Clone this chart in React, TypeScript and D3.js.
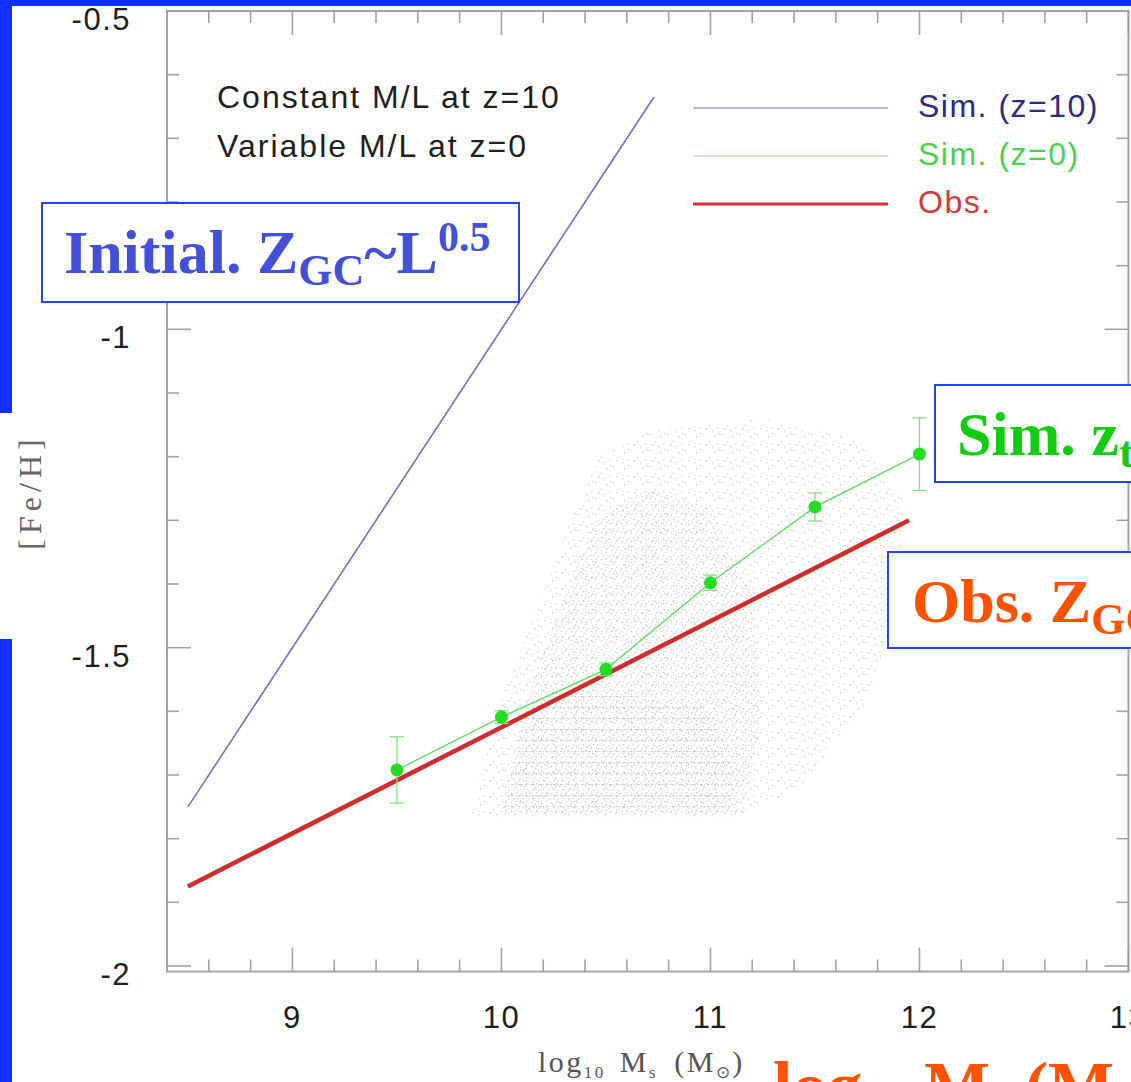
import React from "react";
import * as d3 from "d3";

// ---- data ----
const xMajorTicks = [9, 10, 11, 12, 13];
const yMajorTicks = [-2, -1.5, -1, -0.5];
const xTickLabels = ["9", "10", "11", "12", "13"];
const yTickLabels = ["-2", "-1.5", "-1", "-0.5"];

// simulated relation at z=10 (constant M/L)
const simZ10X = [8.5, 10.73];
const simZ10Y = [-1.75, -0.635];

// observed relation
const obsX = [8.5, 11.95];
const obsY = [-1.875, -1.3];

// simulated relation at z=0 (binned means with dispersion)
const simZ0X = [9.5, 10, 10.5, 11, 11.5, 12];
const simZ0Y = [-1.692, -1.609, -1.534, -1.398, -1.279, -1.196];
const simZ0Err = [0.052, 0.01, 0.01, 0.012, 0.022, 0.057];

// outlines of the simulated GC cloud (log M, [Fe/H])
const cloudOuter: [number, number][] = [
  [9.85, -1.765], [10.0, -1.58], [10.18, -1.43], [10.33, -1.3], [10.47, -1.2],
  [10.7, -1.16], [11.23, -1.14], [11.7, -1.17], [11.93, -1.27], [11.9, -1.42],
  [11.76, -1.58], [11.43, -1.72], [11.14, -1.765],
];
const cloudCore: [number, number][] = [
  [10.0, -1.765], [10.1, -1.6], [10.3, -1.42], [10.45, -1.3], [10.7, -1.25],
  [11.0, -1.28], [11.2, -1.42], [11.25, -1.6], [11.15, -1.765],
];
const cloudRows: [number, number][] = [
  [10.0, -1.765], [10.12, -1.59], [10.4, -1.57], [10.95, -1.585], [11.12, -1.68], [11.1, -1.765],
];

const legendItems = [
  { label: "Sim. (z=10)", line: "#9c9cd4", text: "#2b2b86", width: 1.6 },
  { label: "Sim. (z=0)", line: "#b4e6b4", text: "#4fcf4f", width: 1.6 },
  { label: "Obs.", line: "#d03030", text: "#d03a3a", width: 3.2 },
];

// ---- layout ----
const W = 1131;
const H = 1082;
const x = d3.scaleLinear().domain([8.4, 13]).range([167, 1128.5]);
const y = d3.scaleLinear().domain([-2, -0.5]).range([966, 11]);
const frameBottom = y(-2.0087);

const AXIS = "#a2a2a2";
const SANS = "'Liberation Sans', Arial, Helvetica, sans-serif";
const SERIF = "'Liberation Serif', 'Times New Roman', Times, serif";
const SLIDE_BLUE = "#1030ff";
const BOX_BLUE = "#2246ff";

// dot layouts for the cloud textures (positions inside one tile)
const sparseDots = [[1, 2], [7, 9], [12, 4], [15, 11], [4, 12], [10, 14], [16, 1]];
const coreDots = [[1, 1], [5, 3], [3, 6], [8, 7], [6, 0]];

export default function App() {
  const xMinor = d3.range(8.4, 13.0001, 0.2);
  const yMinor = d3.range(-2, -0.4999, 0.1);
  const isMajorX = (v: number) => Math.abs(v - Math.round(v)) < 1e-6;
  const isMajorY = (v: number) => Math.abs(v * 2 - Math.round(v * 2)) < 1e-6;

  const pathFrom = (xs: number[], ys: number[]) =>
    d3.line<number>().x((v) => x(v)).y((_, i) => y(ys[i]))(xs) || "";

  const poly = (pts: [number, number][]) =>
    d3.line<[number, number]>().x((p) => x(p[0])).y((p) => y(p[1])).curve(d3.curveLinearClosed)(pts) || "";

  const x0 = x.range()[0];
  const x1 = x.range()[1];
  const yTop = y(-0.5);

  return (
    <svg
      width={W}
      height={H}
      viewBox={`0 0 ${W} ${H}`}
      style={{ position: "absolute", left: 0, top: 0, background: "#fff" }}
    >
      <defs>
        <pattern id="dotsSparse" width={18} height={16} patternUnits="userSpaceOnUse">
          {sparseDots.map((p, i) => (
            <rect key={i} x={p[0]} y={p[1]} width={1.3} height={1.3} fill={i % 2 ? "#a0a0a0" : "#8c8c8c"} />
          ))}
        </pattern>
        <pattern id="dotsCore" width={10} height={9} patternUnits="userSpaceOnUse">
          {coreDots.map((p, i) => (
            <rect key={i} x={p[0]} y={p[1]} width={1.2} height={1.2} fill={i % 2 ? "#a8a8a8" : "#909090"} />
          ))}
        </pattern>
        <pattern id="dotsRows" width={7} height={11} patternUnits="userSpaceOnUse">
          <rect x={0} y={3} width={2.5} height={1.2} fill="#8a8a8a" />
          <rect x={4} y={3} width={1.2} height={1.2} fill="#a0a0a0" />
          <rect x={2} y={8} width={1} height={1} fill="#b8b8b8" />
        </pattern>
      </defs>

      <rect x={0} y={0} width={W} height={H} fill="#ffffff" />
      {/* slide background edges */}
      <rect x={0} y={0} width={W} height={6} fill={SLIDE_BLUE} />
      <rect x={0} y={0} width={12} height={413} fill={SLIDE_BLUE} />
      <rect x={0} y={639} width={12} height={H - 639} fill={SLIDE_BLUE} />

      {/* simulated GC cloud */}
      <g opacity={0.45}>
        <path d={poly(cloudOuter)} fill="url(#dotsSparse)" />
        <path d={poly(cloudCore)} fill="url(#dotsCore)" />
        <path d={poly(cloudRows)} fill="url(#dotsRows)" />
      </g>

      {/* frame */}
      <rect x={x0} y={yTop} width={x1 - x0} height={frameBottom - yTop} fill="none" stroke={AXIS} strokeWidth={2} />
      {xMinor.map((v, i) => {
        const len = isMajorX(v) ? 24 : 12;
        return (
          <g key={"xt" + i} stroke={AXIS} strokeWidth={1.6}>
            <line x1={x(v)} x2={x(v)} y1={frameBottom} y2={frameBottom - len} />
            <line x1={x(v)} x2={x(v)} y1={yTop} y2={yTop + len} />
          </g>
        );
      })}
      {yMinor.map((v, i) => {
        const len = isMajorY(v) ? 24 : 12;
        return (
          <g key={"yt" + i} stroke={AXIS} strokeWidth={1.6}>
            <line x1={x0} x2={x0 + len} y1={y(v)} y2={y(v)} />
            <line x1={x1} x2={x1 - len} y1={y(v)} y2={y(v)} />
          </g>
        );
      })}

      {/* tick labels */}
      {xMajorTicks.map((v, i) => (
        <text key={"xl" + i} x={x(v)} y={1028} textAnchor="middle" fontFamily={SANS} fontSize={31} fill="#1e1e1e" letterSpacing={1.5}>
          {xTickLabels[i]}
        </text>
      ))}
      {yMajorTicks.map((v, i) => (
        <text key={"yl" + i} x={131} y={y(v) + 19} textAnchor="end" fontFamily={SANS} fontSize={31} fill="#1e1e1e" letterSpacing={1.5}>
          {yTickLabels[i]}
        </text>
      ))}

      {/* axis titles */}
      <text x={538} y={1072} fontFamily={SERIF} fontSize={30} fill="#555555" letterSpacing={2.5}>
        log<tspan fontSize={17} dy={6}>10</tspan>
        <tspan dy={-6} dx={14}>M</tspan>
        <tspan fontSize={17} dy={6}>s</tspan>
        <tspan dy={-6} dx={16}>(M</tspan>
        <tspan fontSize={17} dy={6}>⊙</tspan>
        <tspan dy={-6}>)</tspan>
      </text>
      <text
        transform="translate(41,492) rotate(-90)"
        textAnchor="middle"
        fontFamily={SERIF}
        fontSize={32}
        fill="#666666"
        letterSpacing={5}
      >
        [Fe/H]
      </text>

      {/* relations */}
      <path d={pathFrom(simZ10X, simZ10Y)} fill="none" stroke="#7070c4" strokeWidth={1.6} />
      <path d={pathFrom(obsX, obsY)} fill="none" stroke="#d02c2c" strokeWidth={4.5} />
      <path d={pathFrom(simZ0X, simZ0Y)} fill="none" stroke="#6cdc6c" strokeWidth={1.5} />
      {simZ0X.map((v, i) => (
        <g key={"eb" + i} stroke="#8cdc8c" strokeWidth={1.3}>
          <line x1={x(v)} x2={x(v)} y1={y(simZ0Y[i] - simZ0Err[i])} y2={y(simZ0Y[i] + simZ0Err[i])} />
          <line x1={x(v) - 7} x2={x(v) + 7} y1={y(simZ0Y[i] - simZ0Err[i])} y2={y(simZ0Y[i] - simZ0Err[i])} />
          <line x1={x(v) - 7} x2={x(v) + 7} y1={y(simZ0Y[i] + simZ0Err[i])} y2={y(simZ0Y[i] + simZ0Err[i])} />
        </g>
      ))}
      {simZ0X.map((v, i) => (
        <circle key={"pt" + i} cx={x(v)} cy={y(simZ0Y[i])} r={6.5} fill="#22dd22" />
      ))}

      {/* in-plot notes */}
      <text x={217} y={108} fontFamily={SANS} fontSize={32} fill="#1e1e1e" letterSpacing={2}>
        Constant M/L at z=10
      </text>
      <text x={217} y={157} fontFamily={SANS} fontSize={32} fill="#1e1e1e" letterSpacing={2}>
        Variable M/L at z=0
      </text>

      {/* legend */}
      {legendItems.map((d, i) => {
        const ly = 108 + i * 48;
        return (
          <g key={"lg" + i}>
            <line x1={693} x2={888} y1={ly} y2={ly} stroke={d.line} strokeWidth={d.width} />
            <text x={918} y={ly + 9} fontFamily={SANS} fontSize={32} fill={d.text} letterSpacing={1.5}>
              {d.label}
            </text>
          </g>
        );
      })}

      {/* annotation boxes */}
      <rect x={42} y={203} width={477} height={99} fill="#fff" stroke={BOX_BLUE} strokeWidth={2} />
      <text x={64} y={273} fontFamily={SERIF} fontWeight="bold" fontSize={62} fill="#4150d6">
        Initial. Z<tspan fontSize={44} dy={12}>GC</tspan>
        <tspan dy={-12}>~L</tspan>
        <tspan fontSize={42} dy={-22}>0.5</tspan>
      </text>

      <rect x={935} y={385} width={220} height={97} fill="#fff" stroke={BOX_BLUE} strokeWidth={2} />
      <text x={957} y={455} fontFamily={SERIF} fontWeight="bold" fontSize={62} fill="#12cc12">
        Sim. z<tspan fontSize={44} dy={12}>trunc</tspan>
      </text>

      <rect x={888} y={552} width={270} height={96} fill="#fff" stroke={BOX_BLUE} strokeWidth={2} />
      <text x={912} y={622} fontFamily={SERIF} fontWeight="bold" fontSize={62} fill="#ff5200">
        Obs. Z<tspan fontSize={44} dy={12}>GC</tspan>
      </text>

      {/* large axis caption at the slide bottom */}
      <text x={773} y={1110} fontFamily={SERIF} fontWeight="bold" fontSize={70} fill="#ff5200">
        log<tspan fontSize={44} dy={12}>10</tspan>
        <tspan dy={-12}> M</tspan>
        <tspan fontSize={44} dy={12}>s</tspan>
        <tspan dy={-12}> (M</tspan>
        <tspan fontSize={44} dy={12}>⊙</tspan>
        <tspan dy={-12}>)</tspan>
      </text>
    </svg>
  );
}
